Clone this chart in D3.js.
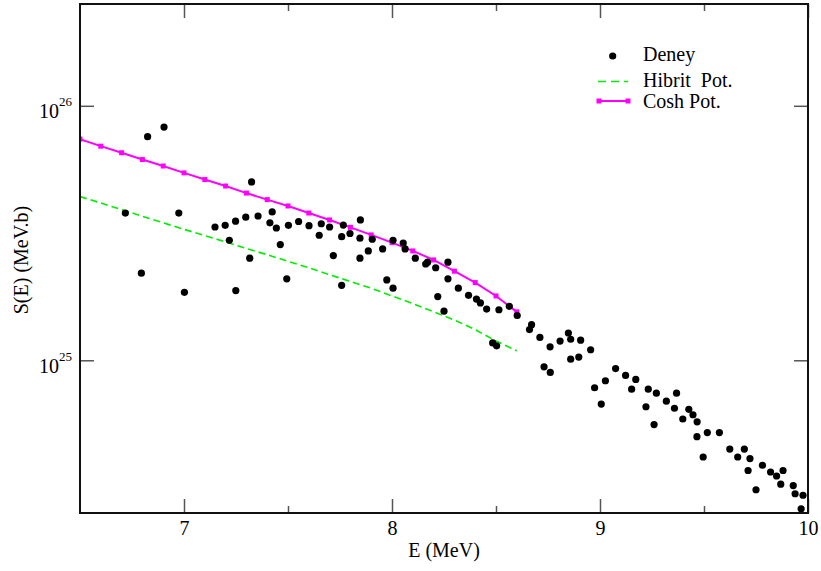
<!DOCTYPE html>
<html><head><meta charset="utf-8">
<script src="https://cdn.jsdelivr.net/npm/d3@7"></script>
<style>
body{margin:0;background:#fff}
svg{display:block}
text{font-family:"Liberation Serif","Times New Roman",serif;fill:#000}
</style>
</head><body><svg id="c" width="821" height="571"></svg>
<script>
// ---- data ----
const deneyE=[6.718,6.795,6.825,6.904,6.975,7.002,7.149,7.198,7.218,7.248,7.249,7.297,7.316,7.325,7.356,7.413,7.424,7.444,7.463,7.494,7.502,7.551,7.601,7.650,7.660,7.700,7.718,7.758,7.758,7.766,7.798,7.846,7.846,7.848,7.886,7.905,7.955,7.975,8.005,8.005,8.054,8.063,8.112,8.162,8.171,8.210,8.220,8.250,8.269,8.269,8.319,8.368,8.406,8.425,8.455,8.484,8.503,8.514,8.564,8.602,8.661,8.671,8.711,8.731,8.760,8.761,8.808,8.848,8.859,8.859,8.898,8.907,8.955,8.974,9.006,9.026,9.075,9.123,9.152,9.172,9.221,9.232,9.260,9.271,9.319,9.358,9.368,9.398,9.427,9.447,9.467,9.466,9.496,9.516,9.574,9.624,9.662,9.694,9.712,9.721,9.750,9.781,9.820,9.849,9.869,9.880,9.929,9.938,9.967,9.976];
const deneyS=[3.79e25,2.20e25,7.56e25,8.25e25,3.79e25,1.85e25,3.34e25,3.39e25,2.96e25,3.52e25,1.88e25,3.65e25,2.52e25,5.02e25,3.69e25,3.47e25,3.83e25,3.31e25,2.85e25,2.09e25,3.39e25,3.51e25,3.38e25,3.10e25,3.44e25,3.34e25,2.58e25,3.06e25,1.97e25,3.40e25,3.15e25,3.02e25,2.52e25,3.56e25,2.69e25,2.99e25,2.74e25,2.07e25,2.96e25,1.92e25,2.89e25,2.74e25,2.52e25,2.39e25,2.43e25,2.31e25,1.78e25,1.56e25,2.43e25,2.09e25,1.92e25,1.80e25,1.74e25,1.68e25,1.59e25,1.17e25,1.14e25,1.58e25,1.63e25,1.50e25,1.32e25,1.38e25,1.23e25,9.43e24,1.13e25,8.96e24,1.19e25,1.28e25,1.21e25,1.01e25,1.03e25,1.20e25,1.10e25,7.80e24,6.73e24,8.31e24,9.28e24,8.72e24,7.70e24,8.41e24,6.57e24,7.70e24,5.59e24,7.43e24,6.91e24,6.48e24,7.43e24,5.88e24,6.42e24,6.11e24,5.73e24,5.01e24,4.17e24,5.20e24,5.20e24,4.48e24,4.17e24,4.48e24,3.69e24,4.11e24,3.10e24,3.87e24,3.64e24,3.51e24,3.26e24,3.69e24,3.22e24,2.99e24,2.61e24,2.95e24];
const modelE=[6.5,6.6,6.7,6.8,6.9,7.0,7.1,7.2,7.3,7.4,7.5,7.6,7.7,7.8,7.9,8.0,8.1,8.2,8.3,8.4,8.5,8.6];
const hibritS=[4.40e25,4.15e25,3.91e25,3.68e25,3.47e25,3.27e25,3.09e25,2.92e25,2.75e25,2.60e25,2.45e25,2.31e25,2.17e25,2.04e25,1.92e25,1.79e25,1.67e25,1.55e25,1.44e25,1.32e25,1.19e25,1.09e25];
const coshS=[7.40e25,6.94e25,6.54e25,6.15e25,5.80e25,5.45e25,5.13e25,4.84e25,4.54e25,4.28e25,4.04e25,3.79e25,3.56e25,3.33e25,3.11e25,2.90e25,2.69e25,2.48e25,2.24e25,2.02e25,1.79e25,1.55e25];
const xTicks=[7,8,9,10];
const xMinorTicks=[7.5,8.5,9.5];
const yTicks=[1e25,1e26];
const yTickExp=["25","26"];
const xDomain=[6.5,10];
const yDomain=[Math.pow(10,24.4),Math.pow(10,26.4)];
const legendLabels=["Deney","Hibrit  Pot.","Cosh Pot."];

// ---- layout ----
const L=80,R=808,T=4,B=513;
const svg=d3.select("#c");
const x=d3.scaleLinear().domain(xDomain).range([L,R]);
const y=d3.scaleLog().domain(yDomain).range([B,T]);
const tickCol="#555";

function styleTicks(g){g.select(".domain").remove();g.selectAll(".tick line").attr("stroke",tickCol).attr("stroke-width",1.5);}

// bottom axis (major + minor)
const gb=svg.append("g").attr("transform",`translate(0,${B})`)
  .call(d3.axisBottom(x).tickValues(xTicks).tickSizeInner(-14).tickSizeOuter(0).tickPadding(8).tickFormat(d3.format("d")));
styleTicks(gb);
gb.selectAll(".tick text").attr("font-size",20).attr("font-family","Liberation Serif").attr("fill","#000");
const gbm=svg.append("g").attr("transform",`translate(0,${B})`)
  .call(d3.axisBottom(x).tickValues(xMinorTicks).tickSizeInner(-7).tickSizeOuter(0).tickFormat(""));
styleTicks(gbm);
// top axis
const gt=svg.append("g").attr("transform",`translate(0,${T})`)
  .call(d3.axisTop(x).tickValues(xTicks).tickSizeInner(-14).tickSizeOuter(0).tickFormat(""));
styleTicks(gt);
const gtm=svg.append("g").attr("transform",`translate(0,${T})`)
  .call(d3.axisTop(x).tickValues(xMinorTicks).tickSizeInner(-7).tickSizeOuter(0).tickFormat(""));
styleTicks(gtm);
// left axis
const gl=svg.append("g").attr("transform",`translate(${L},0)`)
  .call(d3.axisLeft(y).tickValues(yTicks).tickSizeInner(-14).tickSizeOuter(0).tickFormat(""));
styleTicks(gl);
gl.selectAll(".tick").each(function(d,i){
  const t=d3.select(this).select("text").attr("x",-8).attr("dy",null).attr("y",0).attr("text-anchor","end");
  t.append("tspan").attr("font-size",20).attr("dy",12).text("10");
  t.append("tspan").attr("font-size",13).attr("dy",-12).text(yTickExp[i]);
});
// right axis
const gr=svg.append("g").attr("transform",`translate(${R},0)`)
  .call(d3.axisRight(y).tickValues(yTicks).tickSizeInner(-14).tickSizeOuter(0).tickFormat(""));
styleTicks(gr);

// clip
svg.append("clipPath").attr("id","clip").append("rect").attr("x",L).attr("y",T).attr("width",R-L).attr("height",B-T);
const plot=svg.append("g").attr("clip-path","url(#clip)");

// Hibrit (dashed green)
const line=d3.line().x(d=>x(d[0])).y(d=>y(d[1]));
plot.append("path").datum(modelE.map((e,i)=>[e,hibritS[i]]))
  .attr("d",line).attr("fill","none").attr("stroke","#00ee00").attr("stroke-width",1.6).attr("stroke-dasharray","7,4");
// Cosh (magenta with square markers)
plot.append("path").datum(modelE.map((e,i)=>[e,coshS[i]]))
  .attr("d",line).attr("fill","none").attr("stroke","#ff00ff").attr("stroke-width",2);
plot.selectAll("rect.cosh").data(modelE.map((e,i)=>[e,coshS[i]])).join("rect").attr("class","cosh")
  .attr("x",d=>x(d[0])-2.5).attr("y",d=>y(d[1])-2.5).attr("width",5).attr("height",5).attr("fill","#ff00ff");
// Deney (black dots)
plot.selectAll("circle.deney").data(deneyE.map((e,i)=>[e,deneyS[i]])).join("circle").attr("class","deney")
  .attr("cx",d=>x(d[0])).attr("cy",d=>y(d[1])).attr("r",3.6).attr("fill","#000");

// frame
svg.append("rect").attr("x",L).attr("y",T).attr("width",R-L).attr("height",B-T)
  .attr("fill","none").attr("stroke","#111").attr("stroke-width",2);

// axis titles
svg.append("text").attr("x",(L+R)/2).attr("y",557).attr("text-anchor","middle").attr("font-size",20).text("E (MeV)");
svg.append("text").attr("transform","translate(28,260) rotate(-90)").attr("text-anchor","middle").attr("font-size",20).text("S(E) (MeV.b)");

// legend
const lg=svg.append("g");
lg.append("circle").attr("cx",612.7).attr("cy",56).attr("r",3.6).attr("fill","#000");
lg.append("line").attr("x1",598).attr("x2",628).attr("y1",81.5).attr("y2",81.5)
  .attr("stroke","#00ee00").attr("stroke-width",1.6).attr("stroke-dasharray","8,5");
lg.append("line").attr("x1",599).attr("x2",628).attr("y1",101).attr("y2",101).attr("stroke","#ff00ff").attr("stroke-width",2);
[599,628].forEach(px=>lg.append("rect").attr("x",px-2.5).attr("y",98.5).attr("width",5).attr("height",5).attr("fill","#ff00ff"));
const lgY=[61,86.5,107.5];
legendLabels.forEach((t,i)=>lg.append("text").attr("x",643).attr("y",lgY[i]).attr("font-size",20).style("white-space","pre").text(t));
</script>
</body></html>
